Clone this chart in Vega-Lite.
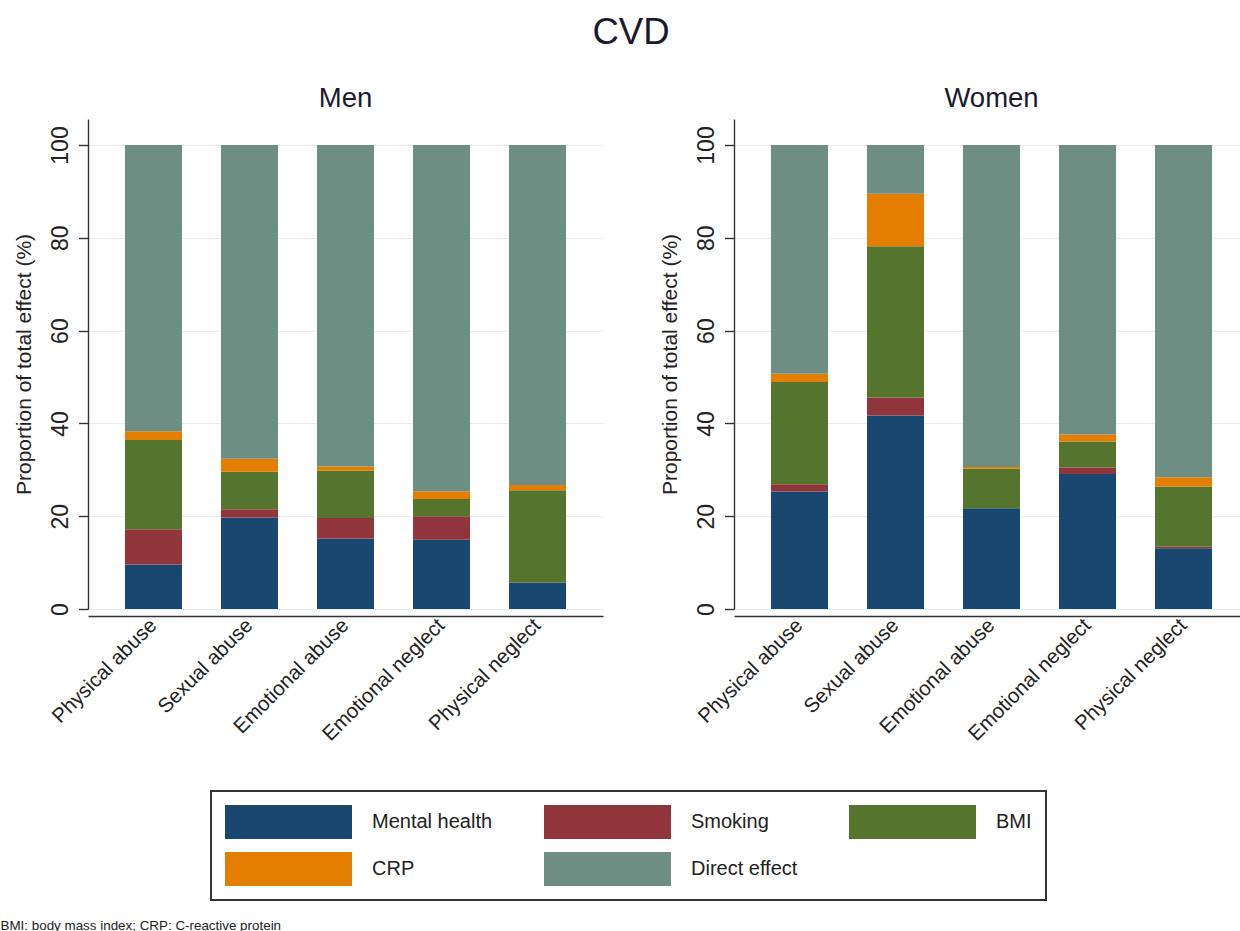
{
  "$schema": "https://vega.github.io/schema/vega-lite/v6.json",
  "padding": {"left": 0, "top": 14, "right": 0, "bottom": 4},
  "background": "white",
  "title": {
    "text": "BMI: body mass index; CRP: C-reactive protein",
    "orient": "bottom",
    "anchor": "start",
    "fontSize": 13.4,
    "fontWeight": "normal",
    "color": "#222222",
    "offset": 18,
    "dx": -13
  },
  "data": {
    "values": [
      {"sex": "Men", "abuse": "Physical abuse", "component": "Mental health", "value": 9.6},
      {"sex": "Men", "abuse": "Physical abuse", "component": "Smoking", "value": 7.6},
      {"sex": "Men", "abuse": "Physical abuse", "component": "BMI", "value": 19.2},
      {"sex": "Men", "abuse": "Physical abuse", "component": "CRP", "value": 1.9},
      {"sex": "Men", "abuse": "Physical abuse", "component": "Direct effect", "value": 61.7},
      {"sex": "Men", "abuse": "Sexual abuse", "component": "Mental health", "value": 19.7},
      {"sex": "Men", "abuse": "Sexual abuse", "component": "Smoking", "value": 1.8},
      {"sex": "Men", "abuse": "Sexual abuse", "component": "BMI", "value": 8.1},
      {"sex": "Men", "abuse": "Sexual abuse", "component": "CRP", "value": 2.8},
      {"sex": "Men", "abuse": "Sexual abuse", "component": "Direct effect", "value": 67.6},
      {"sex": "Men", "abuse": "Emotional abuse", "component": "Mental health", "value": 15.2},
      {"sex": "Men", "abuse": "Emotional abuse", "component": "Smoking", "value": 4.4},
      {"sex": "Men", "abuse": "Emotional abuse", "component": "BMI", "value": 10.2},
      {"sex": "Men", "abuse": "Emotional abuse", "component": "CRP", "value": 0.9},
      {"sex": "Men", "abuse": "Emotional abuse", "component": "Direct effect", "value": 69.3},
      {"sex": "Men", "abuse": "Emotional neglect", "component": "Mental health", "value": 14.9},
      {"sex": "Men", "abuse": "Emotional neglect", "component": "Smoking", "value": 5.1},
      {"sex": "Men", "abuse": "Emotional neglect", "component": "BMI", "value": 3.7},
      {"sex": "Men", "abuse": "Emotional neglect", "component": "CRP", "value": 1.7},
      {"sex": "Men", "abuse": "Emotional neglect", "component": "Direct effect", "value": 74.6},
      {"sex": "Men", "abuse": "Physical neglect", "component": "Mental health", "value": 5.7},
      {"sex": "Men", "abuse": "Physical neglect", "component": "Smoking", "value": 0},
      {"sex": "Men", "abuse": "Physical neglect", "component": "BMI", "value": 19.9},
      {"sex": "Men", "abuse": "Physical neglect", "component": "CRP", "value": 1.1},
      {"sex": "Men", "abuse": "Physical neglect", "component": "Direct effect", "value": 73.3},
      {"sex": "Women", "abuse": "Physical abuse", "component": "Mental health", "value": 25.3},
      {"sex": "Women", "abuse": "Physical abuse", "component": "Smoking", "value": 1.6},
      {"sex": "Women", "abuse": "Physical abuse", "component": "BMI", "value": 22.0},
      {"sex": "Women", "abuse": "Physical abuse", "component": "CRP", "value": 1.8},
      {"sex": "Women", "abuse": "Physical abuse", "component": "Direct effect", "value": 49.3},
      {"sex": "Women", "abuse": "Sexual abuse", "component": "Mental health", "value": 41.7},
      {"sex": "Women", "abuse": "Sexual abuse", "component": "Smoking", "value": 3.9},
      {"sex": "Women", "abuse": "Sexual abuse", "component": "BMI", "value": 32.6},
      {"sex": "Women", "abuse": "Sexual abuse", "component": "CRP", "value": 11.3},
      {"sex": "Women", "abuse": "Sexual abuse", "component": "Direct effect", "value": 10.5},
      {"sex": "Women", "abuse": "Emotional abuse", "component": "Mental health", "value": 21.7},
      {"sex": "Women", "abuse": "Emotional abuse", "component": "Smoking", "value": 0},
      {"sex": "Women", "abuse": "Emotional abuse", "component": "BMI", "value": 8.5},
      {"sex": "Women", "abuse": "Emotional abuse", "component": "CRP", "value": 0.4},
      {"sex": "Women", "abuse": "Emotional abuse", "component": "Direct effect", "value": 69.4},
      {"sex": "Women", "abuse": "Emotional neglect", "component": "Mental health", "value": 29.1},
      {"sex": "Women", "abuse": "Emotional neglect", "component": "Smoking", "value": 1.4},
      {"sex": "Women", "abuse": "Emotional neglect", "component": "BMI", "value": 5.6},
      {"sex": "Women", "abuse": "Emotional neglect", "component": "CRP", "value": 1.5},
      {"sex": "Women", "abuse": "Emotional neglect", "component": "Direct effect", "value": 62.4},
      {"sex": "Women", "abuse": "Physical neglect", "component": "Mental health", "value": 13.1},
      {"sex": "Women", "abuse": "Physical neglect", "component": "Smoking", "value": 0.3},
      {"sex": "Women", "abuse": "Physical neglect", "component": "BMI", "value": 13.0},
      {"sex": "Women", "abuse": "Physical neglect", "component": "CRP", "value": 2.0},
      {"sex": "Women", "abuse": "Physical neglect", "component": "Direct effect", "value": 71.6}
    ]
  },
  "transform": [
    {"calculate": "indexof(['Mental health','Smoking','BMI','CRP','Direct effect'], datum.component)", "as": "stackOrder"}
  ],
  "facet": {
    "column": {
      "field": "sex",
      "type": "nominal",
      "sort": ["Men", "Women"],
      "header": {
        "title": "CVD",
        "titleFontSize": 36.5,
        "titleFontWeight": "normal",
        "titleColor": "#1a1a2e",
        "titleAlign": "center",
        "titlePadding": 23,
        "labelFontSize": 27.5,
        "labelColor": "#1a1a2e",
        "labelBaseline": "alphabetic",
        "labelPadding": -15
      }
    }
  },
  "spacing": 56,
  "resolve": {"axis": {"y": "independent"}},
  "spec": {
    "width": 515,
    "height": 490,
    "mark": {"type": "bar"},
    "encoding": {
      "x": {
        "field": "abuse",
        "type": "nominal",
        "sort": ["Physical abuse", "Sexual abuse", "Emotional abuse", "Emotional neglect", "Physical neglect"],
        "scale": {"paddingInner": 0.406, "paddingOuter": 0.385},
        "axis": {
          "title": null,
          "labelAngle": -45,
          "labelAlign": "right",
          "labelBaseline": "middle",
          "labelPadding": 6,
          "labelFontSize": 20.5,
          "labelColor": "#222222",
          "ticks": false,
          "domainColor": "#333333",
          "domainWidth": 1.4,
          "labelLimit": 400
        }
      },
      "y": {
        "field": "value",
        "type": "quantitative",
        "stack": "zero",
        "scale": {"domain": [0, 105.6], "nice": false, "zero": true},
        "axis": {
          "title": "Proportion of total effect (%)",
          "titleFontSize": 21,
          "titleFontWeight": "normal",
          "titleColor": "#222222",
          "titlePadding": 15,
          "values": [0, 20, 40, 60, 80, 100],
          "labelAngle": 270,
          "labelAlign": "center",
          "labelBaseline": "alphabetic",
          "labelPadding": 11,
          "labelFontSize": 23,
          "labelColor": "#222222",
          "tickSize": 9.5,
          "tickColor": "#333333",
          "tickWidth": 1.4,
          "domainColor": "#333333",
          "domainWidth": 1.4,
          "grid": true,
          "gridColor": "#e6eef0",
          "gridWidth": 1.2
        }
      },
      "color": {
        "field": "component",
        "type": "nominal",
        "scale": {
          "domain": ["Mental health", "Smoking", "BMI", "CRP", "Direct effect"],
          "range": ["#1a476f", "#90353b", "#55752f", "#e37e00", "#6e8e84"]
        },
        "legend": {
          "title": null,
          "orient": "none",
          "legendX": 123,
          "legendY": 672,
          "direction": "horizontal",
          "columns": 3,
          "columnPadding": 51,
          "rowPadding": 13,
          "symbolType": "M-3.735,-1L3.735,-1L3.735,1L-3.735,1Z",
          "symbolSize": 1156,
          "symbolOffset": 46.5,
          "symbolStrokeWidth": 0,
          "symbolOpacity": 1,
          "labelFontSize": 20,
          "labelColor": "#222222",
          "labelOffset": 66.5,
          "labelLimit": 400,
          "padding": 14,
          "strokeColor": "#333333",
          "encode": {"legend": {"update": {"strokeWidth": {"value": 2}}}}
        }
      },
      "order": {"field": "stackOrder", "type": "quantitative", "sort": "ascending"}
    }
  },
  "config": {
    "font": "Liberation Sans",
    "view": {"stroke": null},
    "axis": {"labelFont": "Liberation Sans", "titleFont": "Liberation Sans"},
    "legend": {"labelFont": "Liberation Sans"}
  }
}
